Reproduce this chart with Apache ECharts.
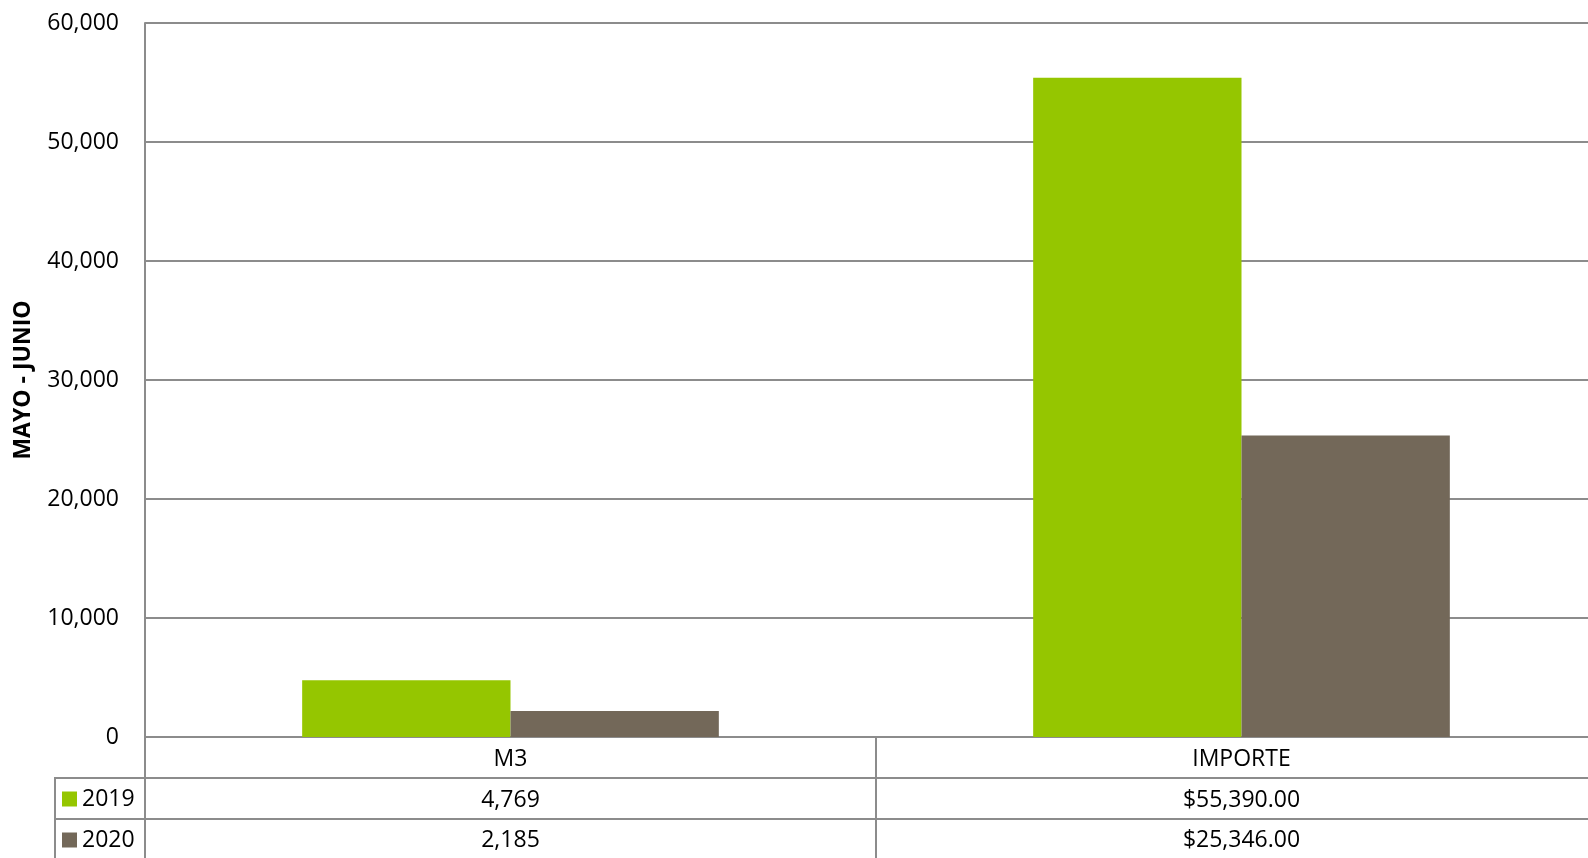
<!DOCTYPE html>
<html>
<head>
<meta charset="utf-8">
<script src="https://cdn.jsdelivr.net/npm/echarts@6/dist/echarts.min.js"></script>
<style>
  html, body { margin: 0; padding: 0; background: #fff; }
  #chart { width: 1588px; height: 858px; }
</style>
</head>
<body>
<div id="chart"></div>
<script>
// data
const categories = ['M3', 'IMPORTE']
const valueKinds = ['number', 'currency']
const seriesNames = ['2019', '2020']
const data2019 = [4769, 55390]
const data2020 = [2185, 25346]
const yTicks = { min: 0, max: 60000, interval: 10000 }

const colors = ['#95C600', '#736859']
const gridColor = '#8c8c8c'
const font = 'Open Sans'

function fmtValue(v, kind) {
  if (kind === 'currency') {
    return '$' + v.toLocaleString('en-US', { minimumFractionDigits: 2, maximumFractionDigits: 2 })
  }
  return v.toLocaleString('en-US')
}

// one legend per table row
function rowLegend(name, top) {
  return {
    orient: 'horizontal',
    left: 62,
    top: top,
    padding: 0,
    itemWidth: 15,
    itemHeight: 15,
    icon: 'rect',
    selectedMode: false,
    data: [name],
    textStyle: { fontFamily: font, fontSize: 23, color: '#000', lineHeight: 40 }
  }
}

const chart = echarts.init(document.getElementById('chart'))

const option = {
  backgroundColor: '#fff',
  animation: false,
  textStyle: { fontFamily: font },
  grid: {
    left: 145,
    top: 23,
    right: -19,
    bottom: 121,
    containLabel: false,
    outerBoundsMode: 'none'
  },
  legend: [rowLegend(seriesNames[0], 779), rowLegend(seriesNames[1], 820)],
  xAxis: {
    type: 'category',
    data: categories,
    boundaryGap: true,
    axisLine: { show: true, lineStyle: { color: gridColor, width: 2 } },
    axisTick: {
      show: true,
      alignWithLabel: false,
      length: 121,
      lineStyle: { color: gridColor, width: 2 }
    },
    axisLabel: {
      margin: 2,
      interval: 0,
      fontFamily: font,
      fontSize: 23,
      color: '#000',
      lineHeight: 40.7,
      formatter: function (value, index) {
        const kind = valueKinds[index]
        return value + '\n' + fmtValue(data2019[index], kind) + '\n' + fmtValue(data2020[index], kind)
      }
    },
    splitLine: { show: false }
  },
  yAxis: {
    type: 'value',
    min: yTicks.min,
    max: yTicks.max,
    interval: yTicks.interval,
    name: 'MAYO - JUNIO',
    nameLocation: 'middle',
    nameGap: 110,
    nameRotate: 90,
    nameTextStyle: { fontFamily: font, fontSize: 23, fontWeight: 'bold', color: '#000' },
    axisLine: { show: true, lineStyle: { color: gridColor, width: 2 } },
    axisTick: { show: false },
    axisLabel: {
      margin: 26,
      fontFamily: font,
      fontSize: 23,
      color: '#000',
      padding: [4, 0, 0, 0],
      formatter: function (v) { return v.toLocaleString('en-US') }
    },
    splitLine: { show: true, lineStyle: { color: gridColor, width: 2 } }
  },
  series: [
    {
      name: seriesNames[0],
      type: 'bar',
      data: data2019,
      barGap: '0%',
      barCategoryGap: '43%',
      itemStyle: { color: colors[0] }
    },
    {
      name: seriesNames[1],
      type: 'bar',
      data: data2020,
      barGap: '0%',
      barCategoryGap: '43%',
      itemStyle: { color: colors[1] }
    }
  ],
  // data table borders
  graphic: [
    { type: 'line', shape: { x1: 55, y1: 778, x2: 1588, y2: 778 }, style: { stroke: gridColor, lineWidth: 2 }, z: 10 },
    { type: 'line', shape: { x1: 55, y1: 819, x2: 1588, y2: 819 }, style: { stroke: gridColor, lineWidth: 2 }, z: 10 },
    { type: 'line', shape: { x1: 55, y1: 777, x2: 55, y2: 858 }, style: { stroke: gridColor, lineWidth: 2 }, z: 10 }
  ]
}

chart.setOption(option)
</script>
</body>
</html>
